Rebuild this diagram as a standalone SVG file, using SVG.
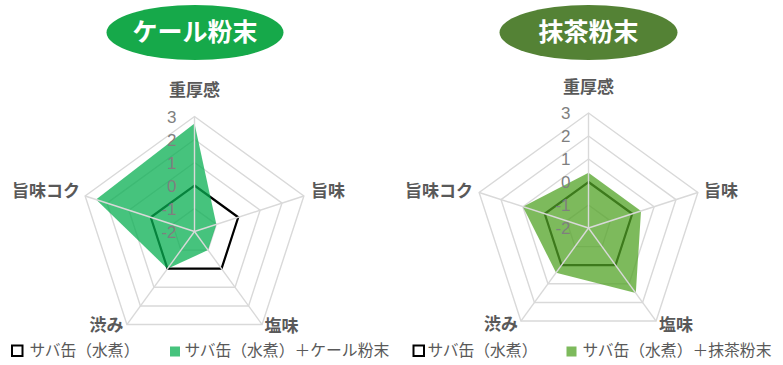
<svg xmlns="http://www.w3.org/2000/svg" width="783" height="365" viewBox="0 0 783 365">
<style>
.ring{fill:none;stroke:#d9d9d9;stroke-width:1.4}
.spoke{stroke:#d9d9d9;stroke-width:1.4}
.base{fill:none;stroke:#000;stroke-width:2.2;stroke-linejoin:miter}
.kale{fill:#08af51;fill-opacity:0.75}
.matcha{fill:#51a325;fill-opacity:0.75}
.tick{font-family:"Liberation Sans",Arial,sans-serif;font-size:17px;fill:#7f7f7f;text-anchor:end}
.cat{font-family:"Noto Sans CJK JP","Noto Sans",sans-serif;font-size:17px;font-weight:bold;fill:#595959}
.title{font-family:"Noto Sans CJK JP","Noto Sans",sans-serif;font-size:25px;font-weight:bold;fill:#fff;text-anchor:middle}
.leg{font-family:"Noto Sans CJK JP","Noto Sans",sans-serif;font-size:15.8px;fill:#595959}
</style>
<defs>
<g id="grid">
<polygon class="ring" points="0,-115 109.37,-35.54 67.6,93.04 -67.6,93.04 -109.37,-35.54"/>
<polygon class="ring" points="0,-92 87.5,-28.43 54.08,74.43 -54.08,74.43 -87.5,-28.43"/>
<polygon class="ring" points="0,-69 65.62,-21.32 40.56,55.82 -40.56,55.82 -65.62,-21.32"/>
<polygon class="ring" points="0,-46 43.75,-14.21 27.04,37.21 -27.04,37.21 -43.75,-14.21"/>
<polygon class="ring" points="0,-23 21.87,-7.11 13.52,18.61 -13.52,18.61 -21.87,-7.11"/>
</g>
<g id="spokes">
<line class="spoke" x1="0" y1="0" x2="0" y2="-115"/>
<line class="spoke" x1="0" y1="0" x2="109.37" y2="-35.54"/>
<line class="spoke" x1="0" y1="0" x2="67.6" y2="93.04"/>
<line class="spoke" x1="0" y1="0" x2="-67.6" y2="93.04"/>
<line class="spoke" x1="0" y1="0" x2="-109.37" y2="-35.54"/>
</g>
<g id="ticks">
<text class="tick" x="-18" y="-109">3</text>
<text class="tick" x="-18" y="-86">2</text>
<text class="tick" x="-18" y="-63">1</text>
<text class="tick" x="-18" y="-40">0</text>
<text class="tick" x="-18" y="-17">-1</text>
<text class="tick" x="-18" y="6">-2</text>
</g>
</defs>

<g id="title-kale">
<ellipse cx="195" cy="32.5" rx="88.5" ry="27.5" fill="#16a94a"/>
<text class="title" x="195" y="41">ケール粉末</text>
</g>
<g id="title-matcha">
<ellipse cx="588.5" cy="32.5" rx="89" ry="27.5" fill="#548235"/>
<text class="title" x="588.5" y="41">抹茶粉末</text>
</g>

<g id="chart-kale" transform="translate(194.5,231.5)">
<use href="#grid"/>
<g id="connectors-kale">
<polygon class="base" points="0,-46 43.75,-14.21 27.04,37.21 -27.04,37.21 -43.75,-14.21"/>
<polygon class="kale" points="0,-108.1 21.87,-7.11 13.52,18.61 -27.04,37.21 -98.44,-31.98"/>
</g>
<use href="#spokes"/>
<use href="#ticks"/>
</g>
<g id="labels-kale">
<text class="cat" x="194.5" y="96" text-anchor="middle">重厚感</text>
<text class="cat" x="311" y="197">旨味</text>
<text class="cat" x="264.5" y="332">塩味</text>
<text class="cat" x="123.5" y="331" text-anchor="end">渋み</text>
<text class="cat" x="80" y="197" text-anchor="end">旨味コク</text>
</g>

<g id="chart-matcha" transform="translate(588.5,228)">
<use href="#grid"/>
<g id="connectors-matcha">
<polygon class="base" points="0,-46 43.75,-14.21 27.04,37.21 -27.04,37.21 -43.75,-14.21"/>
<polygon class="matcha" points="0,-55.2 52.5,-17.06 47.32,65.12 -32.45,44.66 -65.62,-21.32"/>
</g>
<use href="#spokes"/>
<use href="#ticks"/>
</g>
<g id="labels-matcha">
<text class="cat" x="588.5" y="93" text-anchor="middle">重厚感</text>
<text class="cat" x="704" y="197">旨味</text>
<text class="cat" x="659" y="331">塩味</text>
<text class="cat" x="518" y="330" text-anchor="end">渋み</text>
<text class="cat" x="473" y="197" text-anchor="end">旨味コク</text>
</g>

<g id="legend-kale">
<rect x="12" y="345.5" width="10.5" height="10.5" fill="none" stroke="#000" stroke-width="2"/>
<text class="leg" x="29.5" y="356">サバ缶（水煮）</text>
<rect class="kale" x="170" y="346.5" width="10" height="10"/>
<text class="leg" x="184.5" y="356">サバ缶（水煮）＋ケール粉末</text>
</g>
<g id="legend-matcha">
<rect x="413.5" y="345.5" width="10.5" height="10.5" fill="none" stroke="#000" stroke-width="2"/>
<text class="leg" x="427.5" y="356">サバ缶（水煮）</text>
<rect class="matcha" x="566.5" y="346.5" width="10" height="10"/>
<text class="leg" x="582.5" y="356">サバ缶（水煮）＋抹茶粉末</text>
</g>
</svg>
